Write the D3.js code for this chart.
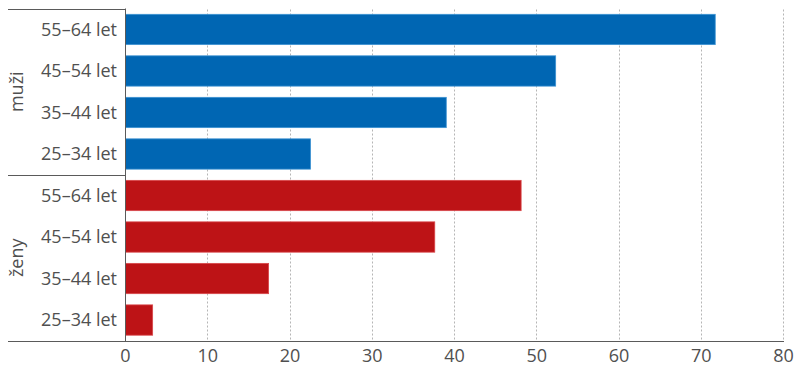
<!DOCTYPE html>
<html>
<head>
<meta charset="utf-8">
<script src="https://cdn.jsdelivr.net/npm/d3@7"></script>
<style>
  body { margin: 0; background: #fff; }
  svg text { font-family: "Open Sans", sans-serif; fill: #505050; }
</style>
</head>
<body>
<div id="chart"></div>
<script>
// data
var groups = ["muži", "ženy"];
var ageBands = ["55–64 let", "45–54 let", "35–44 let", "25–34 let"];
var muzi = [71.7, 52.3, 39.0, 22.5];
var zeny = [48.1, 37.6, 17.4, 3.3];
var xTicks = [0, 10, 20, 30, 40, 50, 60, 70, 80];
var colors = { "muži": "#0066b3", "ženy": "#bd1316" };
var strokes = { "muži": "#3d93d3", "ženy": "#d9474a" };

var rows = [];
groups.forEach(function(g, gi) {
  var vals = gi === 0 ? muzi : zeny;
  ageBands.forEach(function(a, i) {
    rows.push({ key: g + "|" + a, group: g, label: a, value: vals[i] });
  });
});

var width = 800, height = 372;
var plotLeft = 125, plotRight = 783, plotTop = 8.5, plotBottom = 341;

var svg = d3.select("#chart").append("svg")
  .attr("width", width)
  .attr("height", height);

var x = d3.scaleLinear().domain([0, 80]).range([plotLeft, plotRight]);
var y = d3.scaleBand().domain(rows.map(function(d) { return d.key; }))
  .range([plotTop, plotBottom]).paddingInner(0.27).paddingOuter(0.14);

// dashed gridlines
svg.append("g").selectAll("line")
  .data(xTicks.filter(function(t) { return t > 0; }))
  .enter().append("line")
  .attr("x1", function(d) { return Math.round(x(d)) + 0.5; })
  .attr("x2", function(d) { return Math.round(x(d)) + 0.5; })
  .attr("y1", plotTop + 1)
  .attr("y2", plotBottom)
  .attr("stroke", "#b5b5b5")
  .attr("stroke-width", 1)
  .attr("stroke-dasharray", "2,2");

// bars
svg.append("g").selectAll("rect")
  .data(rows)
  .enter().append("rect")
  .attr("x", x(0) + 0.5)
  .attr("y", function(d) { return y(d.key); })
  .attr("width", function(d) { return x(d.value) - x(0); })
  .attr("height", y.bandwidth())
  .attr("fill", function(d) { return colors[d.group]; })
  .attr("stroke", function(d) { return strokes[d.group]; })
  .attr("stroke-width", 0.8);

// category labels
svg.append("g").selectAll("text")
  .data(rows)
  .enter().append("text")
  .attr("x", 117)
  .attr("y", function(d) { return y(d.key) + y.bandwidth() / 2; })
  .attr("dy", "0.35em")
  .attr("text-anchor", "end")
  .style("font-size", "18px")
  .text(function(d) { return d.label; });

// group labels (rotated)
groups.forEach(function(g) {
  var keys = rows.filter(function(d) { return d.group === g; }).map(function(d) { return d.key; });
  var cy = (y(keys[0]) + y(keys[keys.length - 1]) + y.bandwidth()) / 2;
  svg.append("text")
    .attr("transform", "translate(17," + cy + ") rotate(-90)")
    .attr("dy", "0.35em")
    .attr("text-anchor", "middle")
    .style("font-size", "18px")
    .text(g);
});

// separators
var sepY = [plotTop, (plotTop + plotBottom) / 2];
svg.append("g").selectAll("line")
  .data(sepY)
  .enter().append("line")
  .attr("x1", 8).attr("x2", plotLeft)
  .attr("y1", function(d) { return Math.round(d) + 0.5; })
  .attr("y2", function(d) { return Math.round(d) + 0.5; })
  .attr("stroke", "#5a5a5a");

// vertical axis line
svg.append("line")
  .attr("x1", plotLeft + 0.5).attr("x2", plotLeft + 0.5)
  .attr("y1", plotTop).attr("y2", plotBottom)
  .attr("stroke", "#5a5a5a");

// x axis
var xAxis = d3.axisBottom(x).tickValues(xTicks).tickSize(0).tickPadding(8);
var gx = svg.append("g")
  .attr("transform", "translate(0," + (plotBottom + 0.5) + ")")
  .call(xAxis);
gx.select(".domain").remove();
gx.append("line")
  .attr("x1", 8).attr("x2", plotRight + 1)
  .attr("stroke", "#5a5a5a");
gx.selectAll("text")
  .style("font-size", "18px")
  .style("font-family", "'Open Sans', sans-serif")
  .attr("fill", "#505050");
</script>
</body>
</html>
